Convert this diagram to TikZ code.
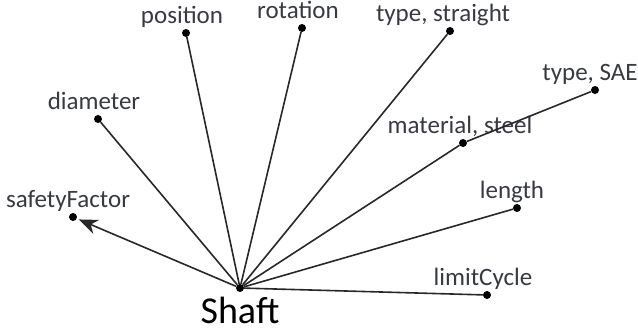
\documentclass[tikz,border=0pt]{standalone}
\usepackage{fontspec}
\setmainfont{Carlito}
\usepackage{tikz}
\definecolor{attrgray}{RGB}{55,58,66}
\definecolor{linkgray}{RGB}{40,40,40}
\usetikzlibrary{
  arrows.meta,
  positioning
}

\begin{document}
\begin{tikzpicture}[
  x=1pt, y=-1pt,
  label distance=5pt,
  attr/.style={circle, fill=black, inner sep=0pt, minimum size=8pt},
  lbl/.style={font=\fontsize{25}{28}\selectfont, text=attrgray, inner sep=0pt, text depth=0pt},
  link/.style={draw=linkgray, line width=1.6pt},
  arr/.style={link, -{Stealth[length=19pt, width=15pt, inset=6pt]}, shorten >=2pt},
]
\useasboundingbox (0,0) rectangle (638,335);

% Central class with its name underneath
\node[attr, label distance=6pt,
  label={[lbl, font=\fontsize{38}{40}\selectfont, text=black]below:Shaft}]
  (shaft) at (240,288) {};

% Attribute end points, each labelled above its dot
\node[attr, label={[lbl, xshift=-5pt]above:safetyFactor}]    (safety)   at (73,217)  {};
\node[attr, label={[lbl, xshift=-4pt]above:diameter}]        (diam)     at (98,119)  {};
\node[attr, label={[lbl, xshift=-4pt]above:position}]        (pos)      at (186,33)  {};
\node[attr, label={[lbl, xshift=-4pt]above:rotation}]        (rot)      at (302,28)  {};
\node[attr, label={[lbl, xshift=-7pt]above:{type, straight}}] (typestr) at (450,31)  {};
\node[attr, label={[lbl, xshift=-5pt]above:{type, SAE}}]     (typesae)  at (595,90)  {};
\node[attr, label={[lbl, xshift=-3pt]above:{material, steel}}] (mat)    at (463,143) {};
\node[attr, label={[lbl, xshift=-5pt]above:length}]          (len)      at (517,208) {};
\node[attr, label={[lbl, xshift=-4pt]above:limitCycle}]      (limit)    at (487,295) {};

% Spokes from the class
\draw[arr]  (shaft) -- (safety);
\draw[link] (shaft) -- (diam);
\draw[link] (shaft) -- (pos);
\draw[link] (shaft) -- (rot);
\draw[link] (shaft) -- (typestr);
\draw[link] (shaft) -- (mat);
\draw[link] (shaft) -- (len);
\draw[link] (shaft) -- (limit);
\draw[link] (mat) -- (typesae);

\end{tikzpicture}
\end{document}
